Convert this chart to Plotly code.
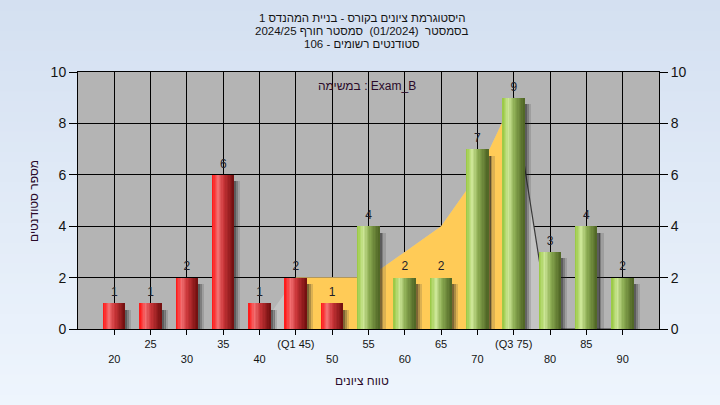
import plotly.graph_objects as go

# ---------------- data ----------------
grades = [20, 25, 30, 35, 40, 45, 50, 55, 60, 65, 70, 75, 80, 85, 90]
counts = [1, 1, 2, 6, 1, 2, 1, 4, 2, 2, 7, 9, 3, 4, 2]
tick_labels = ["20", "25", "30", "35", "40", "(Q1 45)", "50", "55",
               "60", "65", "70", "(Q3 75)", "80", "85", "90"]
pass_grade = 55
# interquartile curve (yellow) and the full curve behind it
iqr_x = [45, 50, 55, 60, 65, 70, 75]
iqr_y = [2, 2, 2, 3, 4, 6, 9]
curve_x = [40, 45, 50, 55, 60, 65, 70, 75, 80, 85, 90]
curve_y = [0, 2, 2, 2, 3, 4, 6, 9, 0, 0, 0]
tail_x = [75, 80, 85, 90]
tail_y = [9, 0, 0, 0]
y_ticks = [0, 2, 4, 6, 8, 10]

title_lines = [
    "היסטוגרמת ציונים בקורס - בניית המהנדס 1",
    "בסמסטר  (01/2024)  סמסטר חורף 2024/25",
    "סטודנטים רשומים - 106",
]
task_label = "במשימה : Exam_B"
x_title = "טווח ציונים"
y_title = "מספר סטודנטים"

# ---------------- style ----------------
W_PX, H_PX = 720, 405
ML, MR, MT, MB = 78, 61, 72, 76
PW, PH = W_PX - ML - MR, H_PX - MT - MB
XR = [15, 95]
YR = [0, 10]
BAR_W = 3.0
FONT = "Liberation Sans, Arial, sans-serif"

red_stops = [(0.0, (255, 18, 18)), (0.28, (242, 110, 112)), (0.55, (200, 52, 55)), (1.0, (112, 14, 14))]
green_stops = [(0.0, (150, 198, 62)), (0.28, (204, 230, 150)), (0.55, (140, 172, 82)), (1.0, (78, 100, 36))]


def grad(stops, t):
    for (t0, c0), (t1, c1) in zip(stops[:-1], stops[1:]):
        if t0 <= t <= t1:
            f = (t - t0) / (t1 - t0)
            return "rgb(%d,%d,%d)" % tuple(round(a + (b - a) * f) for a, b in zip(c0, c1))
    return "rgb(%d,%d,%d)" % stops[-1][1]


fig = go.Figure()

# ---- base subplot (x, y): curves behind the bars ----
fig.add_trace(go.Scatter(x=curve_x, y=curve_y, mode="lines", line=dict(width=0),
                         fill="tozeroy", fillcolor="#c4c4c4", hoverinfo="skip", showlegend=False))
fig.add_trace(go.Scatter(x=iqr_x, y=iqr_y, mode="lines", line=dict(width=0),
                         fill="tozeroy", fillcolor="#ffcb57", hoverinfo="skip", showlegend=False))
fig.add_trace(go.Scatter(x=tail_x, y=tail_y, mode="lines", line=dict(width=1.2, color="#3a3a3a"),
                         hoverinfo="skip", showlegend=False))

# ---- overlay subplot (x2, y2): bars, shadows, labels ----
groups = [
    ([g for g in grades if g < pass_grade], [c for g, c in zip(grades, counts) if g < pass_grade], red_stops),
    ([g for g in grades if g >= pass_grade], [c for g, c in zip(grades, counts) if g >= pass_grade], green_stops),
]

shadow_parts = [(0.00, 0.3, "rgba(30,30,30,0.58)"), (0.3, 0.55, "rgba(40,40,40,0.38)"), (0.55, 0.85, "rgba(60,60,60,0.18)")]
for xs, ys, _ in groups:
    for a, b, col in shadow_parts:
        fig.add_trace(go.Bar(x=xs, y=[v - 0.25 for v in ys], width=b - a + 0.02,
                             offset=BAR_W / 2 + a - 0.01, marker=dict(color=col, line=dict(width=0)),
                             xaxis="x2", yaxis="y2", hoverinfo="skip", showlegend=False))

K = 16
for xs, ys, stops in groups:
    for i in range(K):
        t = (i + 0.5) / K
        fig.add_trace(go.Bar(x=xs, y=ys, width=BAR_W / K + 0.03,
                             offset=-BAR_W / 2 + i * BAR_W / K,
                             marker=dict(color=grad(stops, t), line=dict(width=0)),
                             xaxis="x2", yaxis="y2", hoverinfo="skip", showlegend=False))

fig.add_trace(go.Scatter(x=grades, y=counts, mode="markers+text", text=[str(c) for c in counts],
                         textposition="top center", marker=dict(size=5, opacity=0),
                         textfont=dict(family=FONT, size=12, color="#1e1e2a"),
                         xaxis="x2", yaxis="y2", hoverinfo="skip", showlegend=False))

# ---------------- background (vertical gradient) ----------------
shapes = []
x0p, x1p = -ML / PW, 1 + MR / PW
y0p, y1p = -MB / PH, 1 + MT / PH
N = 40
top, bot = (212, 224, 241), (238, 245, 253)
for i in range(N):
    f = i / (N - 1)
    col = "rgb(%d,%d,%d)" % tuple(round(t + (b - t) * f) for t, b in zip(top, bot))
    ya = y1p - (y1p - y0p) * i / N
    yb = y1p - (y1p - y0p) * (i + 1) / N
    shapes.append(dict(type="rect", xref="paper", yref="paper", x0=x0p, x1=x1p, y0=yb - 0.005, y1=ya,
                       fillcolor=col, line=dict(width=0), layer="below"))
shapes.append(dict(type="rect", xref="paper", yref="paper", x0=0, x1=1, y0=0, y1=1,
                   fillcolor="#b4b4b4", line=dict(width=0), layer="below"))

annotations = []
for i, line in enumerate(title_lines):
    ypx = 18 + 13 * i
    annotations.append(dict(text=line, xref="paper", yref="paper", x=(362 - ML) / PW,
                            y=(H_PX - MB - ypx) / PH, xanchor="center", yanchor="middle",
                            showarrow=False, font=dict(family=FONT, size=11.5, color="#141414")))
annotations.append(dict(text=task_label, xref="paper", yref="paper", x=(367 - ML) / PW,
                        y=(H_PX - MB - 86) / PH, xanchor="center", yanchor="middle",
                        showarrow=False, font=dict(family=FONT, size=12, color="#2a0a2a")))
annotations.append(dict(text=x_title, xref="paper", yref="paper", x=(362 - ML) / PW,
                        y=(H_PX - MB - 381) / PH, xanchor="center", yanchor="middle",
                        showarrow=False, font=dict(family=FONT, size=12, color="#2a0a2a")))
annotations.append(dict(text=y_title, xref="paper", yref="paper", x=(34 - ML) / PW,
                        y=(H_PX - MB - 201) / PH, xanchor="center", yanchor="middle", textangle=-90,
                        showarrow=False, font=dict(family=FONT, size=12, color="#2a0a2a")))

ticktext = [t if i % 2 == 1 else "<br>" + t for i, t in enumerate(tick_labels)]

fig.update_layout(
    width=W_PX, height=H_PX,
    margin=dict(l=ML, r=MR, t=MT, b=MB, pad=0, autoexpand=False),
    paper_bgcolor="#e3ecf7", plot_bgcolor="rgba(0,0,0,0)",
    barmode="overlay", bargap=0,
    showlegend=False, hovermode=False,
    shapes=shapes, annotations=annotations,
    xaxis=dict(range=XR, tickmode="array", tickvals=grades, ticktext=ticktext,
               ticklen=5, mirror=True, showgrid=True, showline=True, linecolor="black",
               ticks="outside", tickcolor="black", zeroline=False, gridcolor="black", gridwidth=1,
               automargin=False, fixedrange=True,
               tickfont=dict(family=FONT, size=11, color="#141414")),
    yaxis=dict(range=YR, tickmode="array", tickvals=y_ticks, ticklen=8,
               mirror=True, showgrid=True, showline=True, linecolor="black",
               ticks="outside", tickcolor="black", zeroline=False, gridcolor="black", gridwidth=1,
               automargin=False, fixedrange=True,
               tickfont=dict(family=FONT, size=14, color="#141414")),
    xaxis2=dict(range=XR, overlaying="x", anchor="y2", visible=False, showgrid=False, fixedrange=True),
    yaxis2=dict(range=YR, overlaying="y", anchor="x2", side="right", tickmode="array",
                tickvals=y_ticks, ticklen=8, showgrid=False, showline=False,
                ticks="outside", tickcolor="black", zeroline=False, automargin=False, fixedrange=True,
                tickfont=dict(family=FONT, size=14, color="#141414")),
)

fig.write_html("out.html", config={"displayModeBar": False},
               post_script="document.body.style.margin='0';")
